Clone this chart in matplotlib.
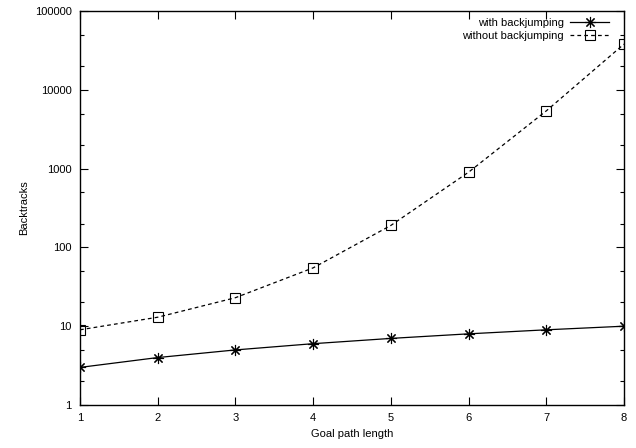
import matplotlib
matplotlib.use('Agg')
import matplotlib.pyplot as plt
from matplotlib.ticker import LogLocator, FixedLocator, NullFormatter

plt.rcParams['font.family'] = ['Liberation Sans', 'DejaVu Sans']

# goal path length vs. number of backtracks
path_len = [1, 2, 3, 4, 5, 6, 7, 8]
with_bj = [3, 4, 5, 6, 7, 8, 9, 10]
without_bj = [9, 13, 23, 55, 190, 900, 5400, 38000]

fig = plt.figure(figsize=(6.36, 4.48), dpi=100)
ax = fig.add_axes([80 / 636, 1 - 405 / 448, 544 / 636, 394 / 448])

ax.plot(path_len, with_bj, color='black', lw=0.9, marker=(8, 2, 0),
        markersize=8, markeredgewidth=0.8, label='with backjumping')
ax.plot(path_len, without_bj, color='black', lw=0.9, ls=(0, (3, 2.5)),
        marker='s', markersize=6.5, markerfacecolor='none',
        markeredgewidth=0.8, label='without backjumping')

ax.set_yscale('log')
ax.set_xlim(1, 8)
ax.set_ylim(1, 100000)
ax.xaxis.set_major_locator(FixedLocator(path_len))
ax.yaxis.set_major_locator(FixedLocator([1, 10, 100, 1000, 10000, 100000]))
ax.set_yticklabels(['1', '10', '100', '1000', '10000', '100000'])
ax.yaxis.set_minor_locator(LogLocator(base=10, subs=(2, 5)))
ax.yaxis.set_minor_formatter(NullFormatter())

ax.tick_params(which='both', direction='in', top=True, right=True,
               labelsize=8, pad=6)
ax.tick_params(which='major', length=6, width=0.8)
ax.tick_params(which='minor', length=3, width=0.8)
for s in ax.spines.values():
    s.set_linewidth(1.0)

ax.set_xlabel('Goal path length', fontsize=8, labelpad=4)
ax.set_ylabel('Backtracks', fontsize=8, labelpad=4)

ax.legend(loc='upper right', frameon=False, markerfirst=False, fontsize=8,
          handlelength=3.5, handletextpad=0.6, labelspacing=0.3,
          borderaxespad=0.2, bbox_to_anchor=(0.985, 1.0))

fig.savefig('out.png', dpi=100)
